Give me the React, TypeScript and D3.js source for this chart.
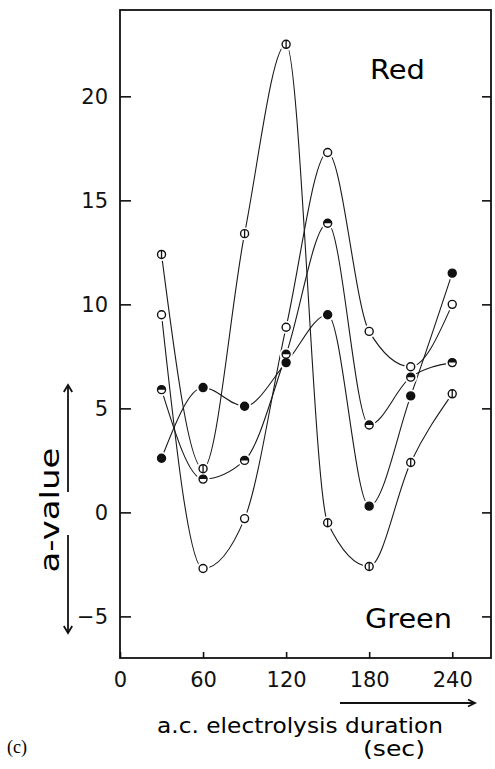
import React, { useEffect, useRef } from 'react';
import * as d3 from 'd3';

// a.c. electrolysis duration (sec)
const seconds = [30, 60, 90, 120, 150, 180, 210, 240];
// a-value series, by marker style
const barSeries = [12.4, 2.1, 13.4, 22.5, -0.5, -2.6, 2.4, 5.7];
const openSeries = [9.5, -2.7, -0.3, 8.9, 17.3, 8.7, 7.0, 10.0];
const filledSeries = [2.6, 6.0, 5.1, 7.2, 9.5, 0.3, 5.6, 11.5];
const halfSeries = [5.9, 1.6, 2.5, 7.6, 13.9, 4.2, 6.5, 7.2];

const xTicks = [0, 60, 120, 180, 240];
const yTicks = [-5, 0, 5, 10, 15, 20];

const seriesList = [
  { name: 'bar', values: barSeries },
  { name: 'open', values: openSeries },
  { name: 'filled', values: filledSeries },
  { name: 'half', values: halfSeries },
];

const App = () => {
  const ref = useRef<SVGSVGElement>(null);

  useEffect(() => {
    const svg = d3.select(ref.current);
    svg.selectAll('*').remove();

    const left = 120, right = 491, top = 10, bottom = 658;
    const font = "'DejaVu Sans', sans-serif";

    const x = d3.scaleLinear().domain([0, 268]).range([left, right]);
    const y = d3.scaleLinear().domain([-7, 24.15]).range([bottom, top]);

    // frame
    svg.append('rect')
      .attr('x', left).attr('y', top)
      .attr('width', right - left).attr('height', bottom - top)
      .attr('fill', 'none').attr('stroke', '#111').attr('stroke-width', 1.8);

    // left axis, ticks inward
    const gl = svg.append('g')
      .attr('transform', `translate(${left},0)`)
      .call(d3.axisLeft(y).tickValues(yTicks).tickSize(-11).tickPadding(12).tickFormat(d => d3.format('d')(+d).replace('-', '\u2212')));
    gl.select('.domain').remove();

    // right axis ticks
    const gr = svg.append('g')
      .attr('transform', `translate(${right},0)`)
      .call(d3.axisRight(y).tickValues(yTicks).tickSize(-9).tickFormat(() => ''));
    gr.select('.domain').remove();

    // bottom axis
    const gb = svg.append('g')
      .attr('transform', `translate(0,${bottom})`)
      .call(d3.axisBottom(x).tickValues(xTicks).tickSize(-6).tickPadding(14));
    gb.select('.domain').remove();

    svg.selectAll('.tick line').attr('stroke', '#111').attr('stroke-width', 1.6);
    svg.selectAll('.tick text')
      .attr('font-family', font).attr('font-size', 21).attr('fill', '#111');

    // curves
    const line = d3.line<number>()
      .x((_, i) => x(seconds[i]))
      .y(d => y(d))
      .curve(d3.curveMonotoneX);

    seriesList.forEach(s => {
      svg.append('path')
        .datum(s.values)
        .attr('fill', 'none')
        .attr('stroke', '#1a1a1a')
        .attr('stroke-width', 1.1)
        .attr('d', line);
    });

    // white halo gap around markers
    seriesList.forEach(s => {
      svg.append('g').selectAll('circle')
        .data(s.values)
        .join('circle')
        .attr('cx', (_, i) => x(seconds[i]))
        .attr('cy', d => y(d))
        .attr('r', 6.5)
        .attr('fill', 'white');
    });

    const r = 4;
    seriesList.forEach(s => {
      const g = svg.append('g').selectAll('g')
        .data(s.values)
        .join('g')
        .attr('transform', (d, i) => `translate(${x(seconds[i])},${y(d)})`);
      g.append('circle')
        .attr('r', r)
        .attr('fill', s.name === 'filled' ? '#111' : 'white')
        .attr('stroke', '#111')
        .attr('stroke-width', 1.4);
      if (s.name === 'half') {
        g.append('path')
          .attr('d', `M${-r},0 A${r},${r} 0 0 1 ${r},0 Z`)
          .attr('fill', '#111');
      }
      if (s.name === 'bar') {
        g.append('line')
          .attr('x1', 0).attr('x2', 0).attr('y1', -r).attr('y2', r)
          .attr('stroke', '#111').attr('stroke-width', 1.3);
      }
    });

    // labels inside
    svg.append('text')
      .attr('x', 370).attr('y', 79)
      .attr('font-family', font).attr('font-size', 26)
      .attr('textLength', 55).attr('lengthAdjust', 'spacingAndGlyphs')
      .text('Red');
    svg.append('text')
      .attr('x', 365).attr('y', 628)
      .attr('font-family', font).attr('font-size', 26)
      .attr('textLength', 87).attr('lengthAdjust', 'spacingAndGlyphs')
      .text('Green');

    // y-axis label and arrows
    svg.append('text')
      .attr('transform', 'translate(59,510) rotate(-90)')
      .attr('text-anchor', 'middle')
      .attr('font-family', font).attr('font-size', 27)
      .attr('textLength', 125).attr('lengthAdjust', 'spacingAndGlyphs')
      .text('a-value');

    const arrowHead = (px: number, py: number, dir: 'up' | 'down' | 'right') => {
      const s = 7;
      let d = '';
      if (dir === 'up') d = `M${px - s * 0.6},${py + s} L${px},${py} L${px + s * 0.6},${py + s}`;
      if (dir === 'down') d = `M${px - s * 0.6},${py - s} L${px},${py} L${px + s * 0.6},${py - s}`;
      if (dir === 'right') d = `M${px - s},${py - s * 0.5} L${px},${py} L${px - s},${py + s * 0.5}`;
      svg.append('path').attr('d', d).attr('fill', 'none')
        .attr('stroke', '#111').attr('stroke-width', 1.8);
    };

    svg.append('line').attr('x1', 68).attr('x2', 68).attr('y1', 492).attr('y2', 385)
      .attr('stroke', '#111').attr('stroke-width', 1.8);
    arrowHead(68, 385, 'up');
    svg.append('line').attr('x1', 68).attr('x2', 68).attr('y1', 535).attr('y2', 633)
      .attr('stroke', '#111').attr('stroke-width', 1.8);
    arrowHead(68, 633, 'down');

    // x-axis label and arrow
    svg.append('line').attr('x1', 340).attr('x2', 475).attr('y1', 703).attr('y2', 703)
      .attr('stroke', '#111').attr('stroke-width', 1.8);
    arrowHead(475, 703, 'right');

    svg.append('text')
      .attr('x', 157).attr('y', 733)
      .attr('font-family', font).attr('font-size', 21)
      .attr('textLength', 286).attr('lengthAdjust', 'spacingAndGlyphs')
      .text('a.c. electrolysis duration');
    svg.append('text')
      .attr('x', 363).attr('y', 756)
      .attr('font-family', font).attr('font-size', 22)
      .attr('textLength', 62).attr('lengthAdjust', 'spacingAndGlyphs')
      .text('(sec)');

    svg.append('text')
      .attr('x', 7).attr('y', 753)
      .attr('font-family', "'Liberation Serif', serif").attr('font-size', 18)
      .text('(c)');
  }, []);

  return (
    <svg ref={ref} width={495} height={769}
      style={{ position: 'absolute', left: 0, top: 0, background: 'white' }} />
  );
};

export default App;
